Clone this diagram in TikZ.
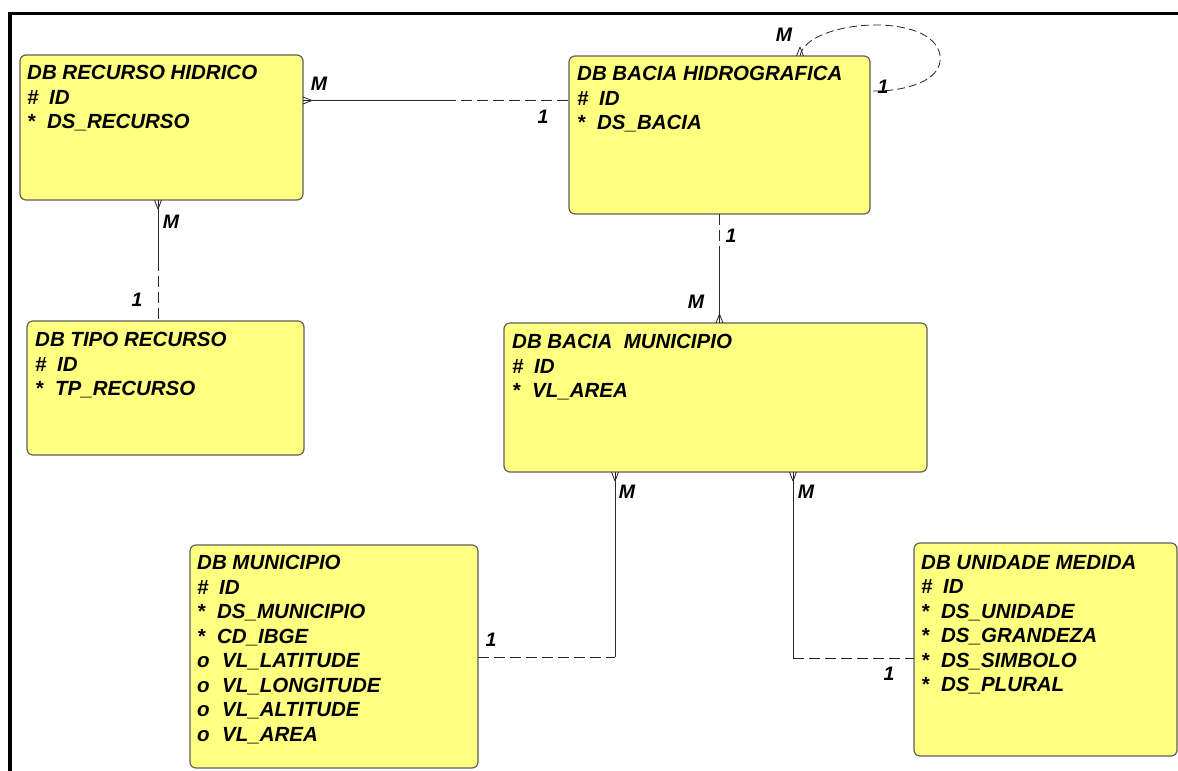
\documentclass[tikz,border=0pt]{standalone}
\usepackage{fontspec}
\setmainfont{Liberation Sans}
\usetikzlibrary{calc}
\definecolor{entfill}{RGB}{255,255,128}
\definecolor{entedge}{RGB}{95,95,95}
\newcommand{\fpk}[1]{\makebox[22pt][l]{\#}#1}
\newcommand{\fmd}[1]{\makebox[20pt][l]{*}#1}
\newcommand{\fop}[1]{\makebox[25pt][l]{o}#1}
\begin{document}
\begin{tikzpicture}[x=1pt,y=-1pt,
  ent/.style={draw=entedge, line width=1.2pt, fill=entfill, rounded corners=6pt, anchor=north west, inner sep=0pt, outer sep=0pt},
  txt/.style={anchor=north west, align=left, inner sep=0pt, font=\fontsize{20.5}{24.5}\selectfont\bfseries\itshape},
  lbl/.style={font=\fontsize{19.5}{22}\selectfont\bfseries\itshape, inner sep=0pt},
  conn/.style={line width=0.8pt, black!85},
  dsh/.style={conn, dash pattern=on 11pt off 5pt}]
\useasboundingbox (0,0) rectangle (1178,771);
\fill[white] (0,0) rectangle (1178,771);
% frame
\draw[line width=3.5pt] (1180,13.5) -- (10,13.5) -- (10,775);
% entities
\node[ent, minimum width=283pt, minimum height=145pt] (rh) at (20,55) {};
\node[ent, minimum width=301pt, minimum height=158pt] (bh) at (569,56) {};
\node[ent, minimum width=277pt, minimum height=134pt] (tr) at (27,321) {};
\node[ent, minimum width=423pt, minimum height=149pt] (bm) at (504,323) {};
\node[ent, minimum width=288pt, minimum height=223pt] (mun) at (190,545) {};
\node[ent, minimum width=263pt, minimum height=213pt] (un) at (914,543) {};
% entity texts
\node[txt] (rht) at (27,65) {DB RECURSO HIDRICO\\\fpk{ID}\\\fmd{DS\_RECURSO}};
\node[txt] (bht) at (577,66) {DB BACIA HIDROGRAFICA\\\fpk{ID}\\\fmd{DS\_BACIA}};
\node[txt] (trt) at (35,332) {DB TIPO RECURSO\\\fpk{ID}\\\fmd{TP\_RECURSO}};
\node[txt] (bmt) at (512,334) {DB BACIA\ \ MUNICIPIO\\\fpk{ID}\\\fmd{VL\_AREA}};
\node[txt] (munt) at (197,555) {DB MUNICIPIO\\\fpk{ID}\\\fmd{DS\_MUNICIPIO}\\\fmd{CD\_IBGE}\\\fop{VL\_LATITUDE}\\\fop{VL\_LONGITUDE}\\\fop{VL\_ALTITUDE}\\\fop{VL\_AREA}};
\node[txt] (unt) at (921,555) {DB UNIDADE MEDIDA\\\fpk{ID}\\\fmd{DS\_UNIDADE}\\\fmd{DS\_GRANDEZA}\\\fmd{DS\_SIMBOLO}\\\fmd{DS\_PLURAL}};
% break points
\coordinate (p1) at (445,100.5);
\coordinate (p2) at (158,260);
\coordinate (p3) at (bh.south |- 0,255);
\coordinate (p4) at (615,657);
\coordinate (p5) at (793,658);
% RH - BH
\draw[conn] (rh.east |- p1) -- (p1);
\draw[dsh] (p1) -- (bh.west |- p1);
\draw[conn] ($(rh.east |- p1)+(9,0)$) -- ($(rh.east |- p1)+(0,-3.5)$)
            ($(rh.east |- p1)+(9,0)$) -- ($(rh.east |- p1)+(0,3.5)$);
\node[lbl] (l1) at (319,84) {M};
\node[lbl] (l2) at (543,117) {1};
% RH - TR
\draw[conn] (rh.south -| p2) -- (p2);
\draw[dsh] (p2) -- (tr.north -| p2);
\draw[conn] ($(rh.south -| p2)+(0,9)$) -- ($(rh.south -| p2)+(-3.5,0)$)
            ($(rh.south -| p2)+(0,9)$) -- ($(rh.south -| p2)+(3.5,0)$);
\node[lbl] (l3) at (171,222) {M};
\node[lbl] (l4) at (137,300) {1};
% BH self loop
\coordinate (ls) at ($(bh.north west)+(231,0)$);
\coordinate (le) at ($(bh.north east)+(0,35)$);
\draw[dsh, dash pattern=on 8pt off 4pt] (ls) .. controls +(6,-36) and (932,10) .. (940,55) .. controls (944,82) and (902,92) .. (le);
\draw[conn] ($(ls)+(0,-9)$) -- ($(ls)+(-3.5,0)$) ($(ls)+(0,-9)$) -- ($(ls)+(3.5,0)$);
\node[lbl] (l5) at (784,35) {M};
\node[lbl] (l6) at (883,87) {1};
% BH - BM
\draw[dsh] (bh.south) -- (p3);
\draw[conn] (p3) -- (bm.north -| p3);
\draw[conn] ($(bm.north -| p3)+(0,-9)$) -- ($(bm.north -| p3)+(-3.5,0)$)
            ($(bm.north -| p3)+(0,-9)$) -- ($(bm.north -| p3)+(3.5,0)$);
\node[lbl] (l7) at (731,236) {1};
\node[lbl] (l8) at (696,302) {M};
% BM - MUN
\draw[conn] (bm.south -| p4) -- (p4);
\draw[dsh] (mun.east |- p4) -- (p4);
\draw[conn] ($(bm.south -| p4)+(0,9)$) -- ($(bm.south -| p4)+(-3.5,0)$)
            ($(bm.south -| p4)+(0,9)$) -- ($(bm.south -| p4)+(3.5,0)$);
\node[lbl] (l9) at (627,492) {M};
\node[lbl] (l10) at (491,640) {1};
% BM - UN
\draw[conn] (bm.south -| p5) -- (p5);
\draw[dsh] (p5) -- (un.west |- p5);
\draw[conn] ($(bm.south -| p5)+(0,9)$) -- ($(bm.south -| p5)+(-3.5,0)$)
            ($(bm.south -| p5)+(0,9)$) -- ($(bm.south -| p5)+(3.5,0)$);
\node[lbl] (l11) at (806,492) {M};
\node[lbl] (l12) at (889,674) {1};
\end{tikzpicture}
\end{document}
